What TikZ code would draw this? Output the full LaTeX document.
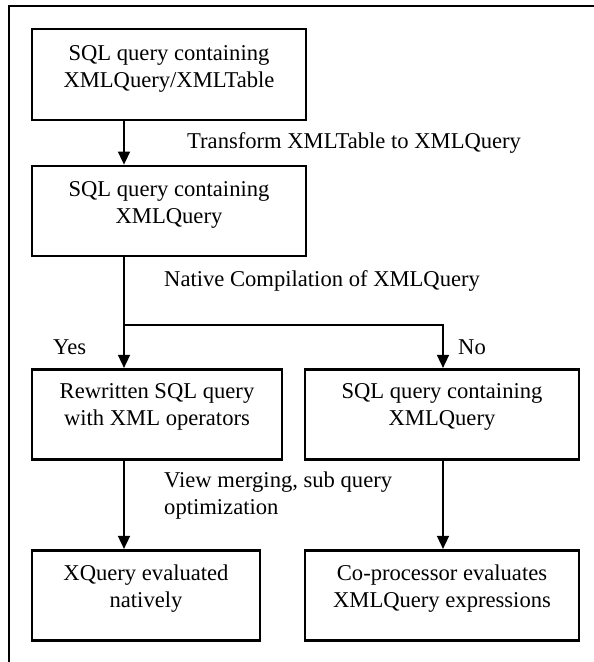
\documentclass[tikz,border=0pt]{standalone}
\usepackage{fontspec}
\setmainfont{Liberation Serif}
\usetikzlibrary{arrows.meta,calc}
\begin{document}
\begin{tikzpicture}[x=1pt,y=-1pt,
  box/.style={draw,line width=2.8pt,inner sep=0pt},
  txt/.style={align=center,inner sep=0pt,font=\fontsize{22.6}{27}\selectfont},
  lbl/.style={inner sep=0pt,anchor=west,align=left,font=\fontsize{22.6}{27}\selectfont},
  conn/.style={line width=1.6pt},
  arr/.style={conn,-{Triangle[width=12pt,length=13pt]}}]
\useasboundingbox (0,0) rectangle (594,662);
\fill[white] (0,0) rectangle (594,662);
% outer frame (cropped)
\draw[line width=2.5pt] (597,6) -- (9,6) -- (9,665);
% boxes
\node[box,minimum width=274pt,minimum height=91pt] (b1) at (169,74.5) {};
\node[box,minimum width=274pt,minimum height=90pt] (b2) at (169,211) {};
\node[box,minimum width=250pt,minimum height=90pt] (b3) at (157,414.3) {};
\node[box,minimum width=274pt,minimum height=90pt] (b4) at (442,414.3) {};
\node[box,minimum width=228pt,minimum height=90pt] (b5) at (146,595.3) {};
\node[box,minimum width=274pt,minimum height=90pt] (b6) at (442,595.3) {};
% box texts
\node[txt] (t1) at ($(b1.center)+(0,-6)$) {SQL query containing\\XMLQuery/XMLTable};
\node[txt] (t2) at ($(b2.center)+(0,-6)$) {SQL query containing\\XMLQuery};
\node[txt] (t3) at ($(b3.center)+(0,-7)$) {Rewritten SQL query\\with XML operators};
\node[txt] (t4) at ($(b4.center)+(0,-7)$) {SQL query containing\\XMLQuery};
\node[txt] (t5) at ($(b5.center)+(0,-7)$) {XQuery evaluated\\natively};
\node[txt] (t6) at ($(b6.center)+(0,-7)$) {Co-processor evaluates\\XMLQuery expressions};
% labels
\node[lbl] (l1) at (187,143) {Transform XMLTable to XMLQuery};
\node[lbl] (l2) at (164,281) {Native Compilation of XMLQuery};
\node[lbl] (l3) at (53,347) {Yes};
\node[lbl] (l4) at (458,347) {No};
\node[lbl] (l5) at (164,496) {View merging, sub query\\optimization};
% connectors
\coordinate (colL) at (124,0);
\coordinate (colR) at (443,0);
\coordinate (br) at (124,325);
\draw[arr] (b1.south -| colL) -- (b2.north -| colL);
\draw[conn] (b2.south -| colL) -- (br);
\draw[arr] (br) -- (b3.north -| colL);
\draw[arr] (br) -| (b4.north -| colR);
\draw[arr] (b3.south -| colL) -- (b5.north -| colL);
\draw[arr] (b4.south -| colR) -- (b6.north -| colR);
\end{tikzpicture}
\end{document}
